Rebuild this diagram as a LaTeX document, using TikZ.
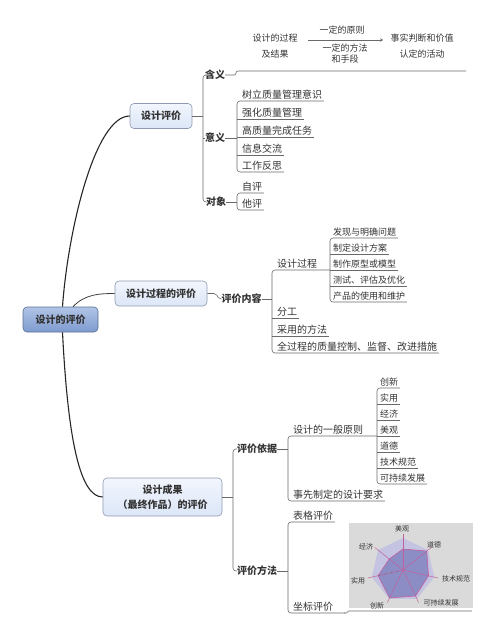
\documentclass[tikz,border=0pt]{standalone}
\usepackage{fontspec}
\setmainfont{Noto Sans CJK SC}
\usetikzlibrary{calc}
\definecolor{txt}{HTML}{333333}
\definecolor{lg}{HTML}{6A6A6A}
\definecolor{bxb}{HTML}{8E9AB0}
\definecolor{bxt}{HTML}{F2F6FD}
\definecolor{bxbot}{HTML}{DCE6F7}
\definecolor{rtb}{HTML}{5D6F90}
\definecolor{rtt}{HTML}{B0C4E6}
\definecolor{rtbot}{HTML}{7E9BCF}
\definecolor{rbg}{HTML}{DADADA}
\definecolor{hout}{HTML}{C4C4E2}
\definecolor{hin}{HTML}{8D8DC6}
\definecolor{pk}{HTML}{C0609C}
\newcommand\myfs[1]{\fontsize{#1}{#1}\selectfont}
\begin{document}
\begin{tikzpicture}[x=1pt,y=-1pt,
  lf/.style={font={\myfs{10}}, text=txt, inner sep=0pt, anchor=base west},
  sl/.style={font={\myfs{9}}, text=txt, inner sep=0pt, anchor=base west},
  lab/.style={font={\myfs{10}\bfseries}, text=txt, inner sep=0pt},
  tb/.style={font={\myfs{9}}, text=txt, inner sep=0pt},
  rl/.style={font={\myfs{7}}, text=txt, inner sep=0pt},
  br/.style={draw=lg, line width=0.6pt, rounded corners=3pt},
  box/.style={draw=bxb, line width=0.6pt, rounded corners=4pt, top color=bxt, bottom color=bxbot,
    font={\myfs{10}\bfseries}, text=txt, minimum height=25pt, align=center},
  mainc/.style={draw=black!85, line width=1.1pt},
  subc/.style={draw=black!75, line width=0.8pt}]
\useasboundingbox (0,0) rectangle (494,640);

% ---------- main boxes ----------
\node[draw=rtb, line width=0.6pt, rounded corners=4pt, top color=rtt, bottom color=rtbot,
  font={\myfs{10}\bfseries}, text=txt, minimum height=25pt, minimum width=75pt] (root) at (60.5,319.5) {设计的评价};
\node[box, minimum width=62pt] (sgpj) at (161,116) {设计评价};
\node[box, minimum width=92pt] (sgp) at (161,293.5) {设计过程的评价};
\node[box, minimum width=119pt, minimum height=38pt, font={\fontsize{10}{15}\selectfont\bfseries}] (sgc) at (162.5,497) {设计成果\\（最终作品）的评价};

\draw[mainc] ([xshift=2pt]root.north) .. controls (68,230) and (95,116) .. (sgpj.west);
\draw[mainc] ([xshift=2pt]root.south) .. controls (68,440) and (80,497) .. (sgc.west);
\draw[subc] ([xshift=12.5pt]root.north) .. controls (85,294) and (100,293.5) .. (sgp.west);

% ---------- 设计评价 ----------
\node[lab] (hanyi) at (215,75) {含义};
\node[lab] (yiyi) at (215,138) {意义};
\node[lab] (duixiang) at (216,202) {对象};
\draw[br] (sgpj.east) -- (203,116);
\draw[br] (hanyi.west) -| (203,202) -- (duixiang.west);
\draw[br] (203,138) -- (yiyi.west);

% 含义 content
\node[tb] (g1) at (275,38) {设计的过程};
\node[tb] (g2) at (275,54) {及结果};
\node[tb] (a1) at (342,30) {一定的原则};
\node[tb] (a2) at (345,48) {一定的方法};
\node[tb] (a3) at (345,59) {和手段};
\node[tb] (s1) at (422,38) {事实判断和价值};
\node[tb] (s2) at (422,54) {认定的活动};
\draw[draw=lg, line width=0.5pt, ->, >=stealth] ($(g1.east)+(10,2)$) -- ($(s1.west)+(-7,2)$);
\coordinate (hyend) at (466,71);
\draw[br, rounded corners=2pt] (hanyi.east) -- (236,75) -- (236,71) -- (hyend);

% 意义 children
\node[lf] (m1) at (242,98.5) {树立质量管理意识};
\node[lf] (m2) at (242,116.5) {强化质量管理};
\node[lf] (m3) at (242,134.5) {高质量完成任务};
\node[lf] (m4) at (242,152.5) {信息交流};
\node[lf] (m5) at (242,169.5) {工作反思};
\draw[br] (yiyi.east) -- (237,138);
\draw[br] ($(m1.base east)+(1.5,2.5)$) -| (237,172) -- ($(m5.base east)+(1.5,2.5)$);
\draw[br] (237,119) -- ($(m2.base east)+(1.5,2.5)$);
\draw[br] (237,137) -- ($(m3.base east)+(1.5,2.5)$);
\draw[br] (237,155) -- ($(m4.base east)+(1.5,2.5)$);

% 对象 children
\node[lf] (d1) at (242,190.5) {自评};
\node[lf] (d2) at (242,207.5) {他评};
\draw[br] (duixiang.east) -- (237,202);
\draw[br] ($(d1.base east)+(1.5,2.5)$) -| (237,210) -- ($(d2.base east)+(1.5,2.5)$);

% ---------- 设计过程的评价 ----------
\node[lab] (pjnr) at (241.5,299) {评价内容};
\draw[br, rounded corners=2pt] (sgp.east) -- (216,293.5) -- (219,299) -- (pjnr.west);

\node[lf] (p1) at (277,267.5) {设计过程};
\node[lf] (p2) at (277,315.5) {分工};
\node[lf] (p3) at (277,333.5) {采用的方法};
\node[lf] (p4) at (277,350.5) {全过程的质量控制、监督、改进措施};
\draw[br] (pjnr.east) -- (272,299);
\draw[br] (330,270) -| (272,353) -- ($(p4.base east)+(1.5,2.5)$);
\draw[br] (272,318) -- ($(p2.base east)+(1.5,2.5)$);
\draw[br] (272,336) -- ($(p3.base east)+(1.5,2.5)$);

\node[sl] (q1) at (333,235.8) {发现与明确问题};
\node[sl] (q2) at (333,251.8) {制定设计方案};
\node[sl] (q3) at (333,267.8) {制作原型或模型};
\node[sl] (q4) at (333,283.8) {测试、评估及优化};
\node[sl] (q5) at (333,299.8) {产品的使用和维护};
\draw[br] ($(q1.base east)+(1.5,2.2)$) -| (330,302) -- ($(q5.base east)+(1.5,2.2)$);
\draw[br] (330,254) -- ($(q2.base east)+(1.5,2.2)$);
\draw[br] (330,270) -- ($(q3.base east)+(1.5,2.2)$);
\draw[br] (330,286) -- ($(q4.base east)+(1.5,2.2)$);

% ---------- 设计成果 ----------
\node[lab] (pjyj) at (257,449) {评价依据};
\node[lab] (pjff) at (257,571) {评价方法};
\draw[br] (sgc.east) -- (233,497);
\draw[br] (pjyj.west) -| (233,571) -- (pjff.west);

\node[lf] (y1) at (293,433.5) {设计的一般原则};
\node[lf] (y2) at (293,498.5) {事先制定的设计要求};
\draw[br] (pjyj.east) -- (288,449);
\draw[br] (377,436) -| (288,501) -- ($(y2.base east)+(1.5,2.5)$);

\node[sl] (r1) at (380,385.8) {创新};
\node[sl] (r2) at (380,401.8) {实用};
\node[sl] (r3) at (380,417.8) {经济};
\node[sl] (r4) at (380,433.8) {美观};
\node[sl] (r5) at (380,449.8) {道德};
\node[sl] (r6) at (380,465.8) {技术规范};
\node[sl] (r7) at (380,481.8) {可持续发展};
\draw[br] ($(r1.base east)+(1.5,2.2)$) -| (377,484) -- ($(r7.base east)+(1.5,2.2)$);
\draw[br] (377,404) -- ($(r2.base east)+(1.5,2.2)$);
\draw[br] (377,420) -- ($(r3.base east)+(1.5,2.2)$);
\draw[br] (377,436) -- ($(r4.base east)+(1.5,2.2)$);
\draw[br] (377,452) -- ($(r5.base east)+(1.5,2.2)$);
\draw[br] (377,468) -- ($(r6.base east)+(1.5,2.2)$);

\node[lf] (f1) at (293,519.5) {表格评价};
\node[lf] (f2) at (293,610.5) {坐标评价};
\draw[br] (pjff.east) -- (288,571);
\draw[br] ($(f1.base east)+(1.5,2.5)$) -| (288,613) -- (345,613);
\coordinate (radend) at (472,611);
\draw[br, rounded corners=1pt] (344,613) -- (347.5,613) -- (347.5,611) -- (radend);

% ---------- radar chart ----------
\fill[rbg] (349,523) rectangle (473,608);
\begin{scope}[shift={(403,570)}]
  \fill[hout] (90:32pt) -- (38.57:32pt) -- (-12.86:32pt) -- (-64.29:32pt) -- (-115.71:32pt) -- (-167.14:32pt) -- (141.43:32pt) -- cycle;
  \filldraw[fill=hin, draw=pk, line width=0.6pt] (90:21pt) -- (38.57:30.4pt) -- (-12.86:26.2pt) -- (-64.29:28.8pt) -- (-115.71:31pt) -- (-167.14:25.6pt) -- (141.43:17.6pt) -- cycle;
  \foreach \a in {90,38.57,-12.86,-64.29,-115.71,-167.14,141.43}
    \draw[pk, line width=0.5pt] (0,0) -- (\a:36pt);
  \foreach \r in {6,12,18,24}
    \fill[black!60] (-167.14:\r pt) circle (0.5pt);
\end{scope}
\node[rl] (rmg) at (402,529) {美观};
\node[rl] (rdd) at (434,545) {道德};
\node[rl] (rjs) at (456,579) {技术规范};
\node[rl] (rkc) at (441,603) {可持续发展};
\node[rl] (rcx) at (377,606) {创新};
\node[rl] (rsy) at (358,581) {实用};
\node[rl] (rjj) at (366,547) {经济};
\end{tikzpicture}
\end{document}
